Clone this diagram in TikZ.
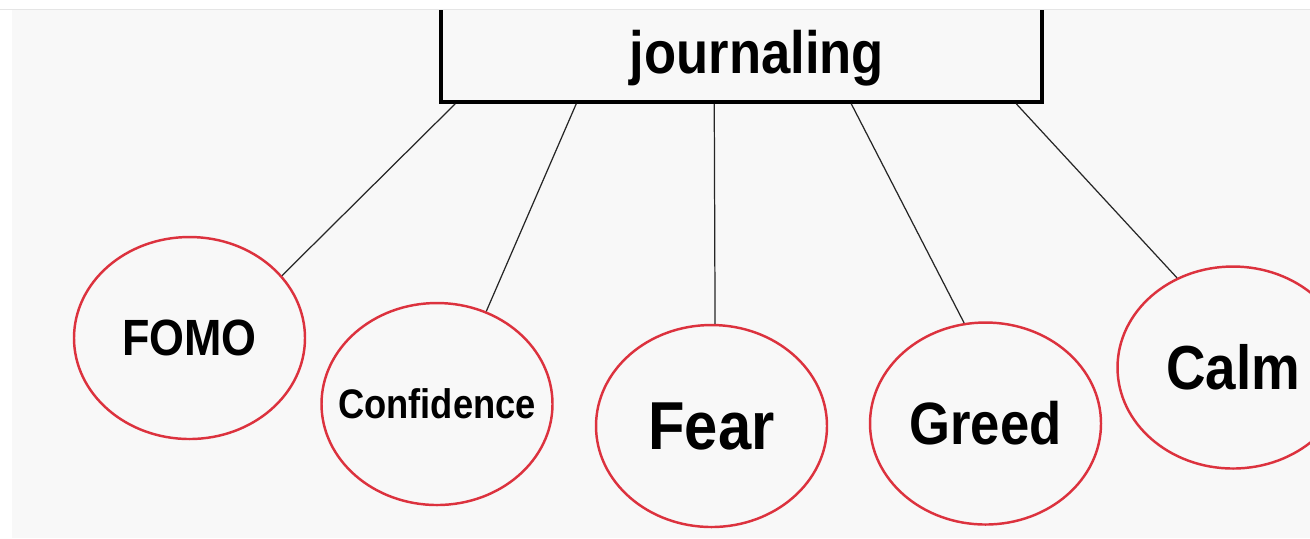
\documentclass[tikz,border=0pt]{standalone}
\usepackage{fontspec}
\setmainfont[FakeStretch=0.88]{Liberation Sans}
\usetikzlibrary{shapes.geometric, calc}
\definecolor{ringred}{RGB}{220,50,62}
\definecolor{paper}{RGB}{248,248,248}

\begin{document}
\begin{tikzpicture}[x=0.1mm, y=-0.1mm,
  mood/.style={ellipse, draw=ringred, line width=0.7pt, minimum width=2.31cm, minimum height=2.02cm, inner sep=0pt},
  link/.style={black!85, line width=0.35pt}]
\useasboundingbox (0,0) rectangle (1310,538);
\fill[paper] (12,10) rectangle (1310,538);
% header box, its top runs off the page
\node[draw, line width=1pt, fill=paper, minimum width=6.01cm, minimum height=1.32cm] (root) at (741.5,36) {};
\fill[white] (0,0) rectangle (1310,9);
\draw[black!10] (0,9.5) -- (1310,9.5);
\node[anchor=base, font=\bfseries\fontsize{17}{20}\selectfont] (title) at (757,73) {journaling};
% the five moods
\node[mood, font=\bfseries\fontsize{14.5}{17}\selectfont] (fomo) at (189.5,338) {FOMO};
\node[mood, label={[font=\bfseries\fontsize{11.75}{14}\selectfont]center:Confidence}] (conf) at (437,404) {};
\node[mood, font=\bfseries\fontsize{19.3}{22}\selectfont] (fear) at (711.5,426) {Fear};
\node[mood, font=\bfseries\fontsize{17}{20}\selectfont] (greed) at (985.5,423.5) {Greed};
\node[mood, font=\bfseries\fontsize{17.7}{20}\selectfont] (calm) at (1233,367.5) {Calm};
\draw[link] ($(root.south west)+(16,0)$) -- (fomo.34.5);
\draw[link] ($(root.south west)+(137,0)$) -- (conf.62);
\draw[link] ($(root.south west)+(275,0)$) -- (fear.88);
\draw[link] ($(root.south west)+(412,0)$) -- (greed.102);
\draw[link] ($(root.south west)+(577,0)$) -- (calm.122);
\end{tikzpicture}
\end{document}
